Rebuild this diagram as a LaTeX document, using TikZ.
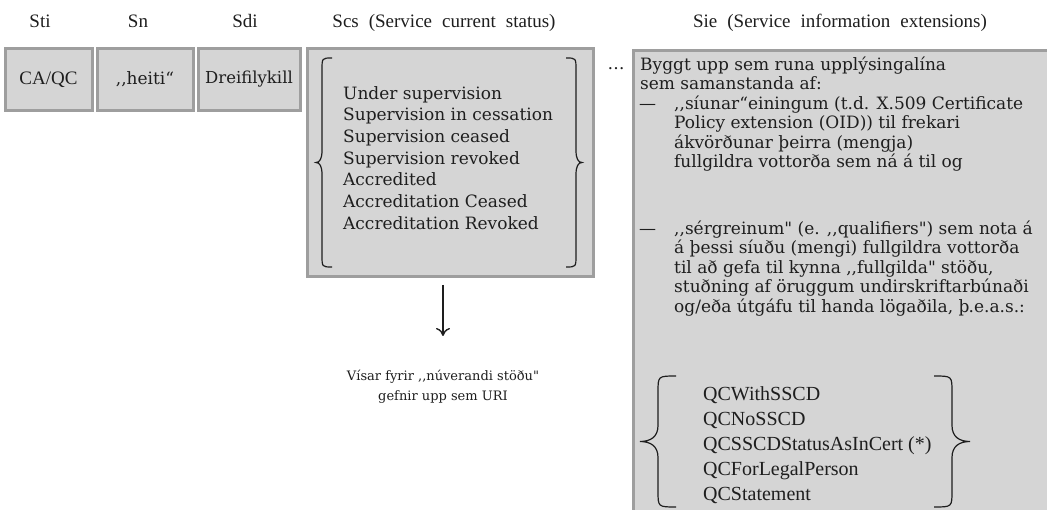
\documentclass[tikz,border=0pt]{standalone}
\usepackage{fontspec}
\setmainfont{Liberation Serif}
\newfontfamily\slab{DejaVu Serif}
\usetikzlibrary{arrows.meta}
\definecolor{boxfill}{HTML}{D5D5D5}
\definecolor{boxborder}{HTML}{9E9E9E}
\definecolor{ink}{HTML}{1E1E1E}
\newcommand\dc{,\kern0pt,}
\newcommand\fs{\rule{0pt}{18pt}}
% left curly brace: arm x, mid x, tip x, top y, bottom y, hook radius
\newcommand\mybraceL[6]{%
  \pgfmathsetmacro\yc{(#4+#5)/2}%
  \draw[brc] (#1,#4) .. controls (#2,#4) and (#2,#4) .. (#2,{#4+#6})
    -- (#2,{\yc-#6}) .. controls (#2,{\yc-0.3*#6}) and ({#2+0.4*(#3-#2)},\yc) .. (#3,\yc)
    .. controls ({#2+0.4*(#3-#2)},\yc) and (#2,{\yc+0.3*#6}) .. (#2,{\yc+#6})
    -- (#2,{#5-#6}) .. controls (#2,#5) and (#2,#5) .. (#1,#5);}
\begin{document}
\begin{tikzpicture}[x=1pt,y=-1pt,
  cell/.style={draw=boxborder, line width=3pt, fill=boxfill, inner sep=0pt, text=ink},
  hdr/.style={font=\fontsize{19}{21}\selectfont, text=ink, anchor=base, inner sep=0pt},
  slabtxt/.style={font=\slab\fontsize{17}{19.5}\selectfont, text=ink, align=left, inner sep=0pt},
  scstxt/.style={font=\slab\fontsize{17}{21.7}\selectfont, text=ink, align=left, inner sep=0pt},
  notetxt/.style={font=\slab\fontsize{13}{20}\selectfont, text=ink, align=center, inner sep=0pt},
  qctxt/.style={font=\fontsize{20}{25}\selectfont, text=ink, align=left, inner sep=0pt},
  brc/.style={draw=ink, line width=1.2pt},
  arr/.style={-{To[length=8pt,width=14pt]}, draw=ink, line width=1.4pt}
]
\useasboundingbox[fill=white] (0,0) rectangle (1047,510);
% headers
\node[hdr] (hsti) at (40,28) {Sti};
\node[hdr] (hsn) at (138,28) {Sn};
\node[hdr] (hsdi) at (245,28) {Sdi};
\node[hdr] (hscs) at (444,28) {\spaceskip=10pt Scs (Service current status)};
\node[hdr] (hsie) at (840,28) {\spaceskip=10pt Sie (Service information extensions)};
% boxes
\node[cell, minimum width=87pt, minimum height=62pt, font=\fontsize{19}{21}\selectfont] (sti) at (48.5,79.5) {CA/QC};
\node[cell, minimum width=96pt, minimum height=62pt, font=\slab\fontsize{17}{19}\selectfont] (sn) at (145,79.5) {\dc heiti“};
\node[cell, minimum width=102pt, minimum height=62pt, font=\slab\fontsize{16.5}{19}\selectfont] (sdi) at (249,79.5) {Dreifilykill};
\node[cell, minimum width=286pt, minimum height=228pt] (scs) at (450,163) {};
\node[cell, anchor=north west, minimum width=440pt, minimum height=480pt] (sie) at (632,49) {};
% scs content
\mybraceL{332}{322}{316}{58}{267}{12}
\mybraceL{566}{576}{582}{58}{267}{12}
\node[scstxt, anchor=north west] (scstext) at (343,81) {\fs Under supervision\\Supervision in cessation\\Supervision ceased\\Supervision revoked\\Accredited\\Accreditation Ceased\\Accreditation Revoked};
\node[font=\slab\fontsize{17}{19}\selectfont, text=ink, anchor=base, inner sep=0pt] (dots) at (616,70) {\ldots};
% arrow and note
\coordinate (a1) at (443,285);
\coordinate (a2) at (443,336);
\draw[arr] (a1) -- (a2);
\node[notetxt, anchor=north] (note) at (443,362) {\fs Vísar fyrir \dc núverandi stöðu"\\gefnir upp sem URI};
% sie content
\node[slabtxt, anchor=north west] (sie1) at (640,52) {\fs Byggt upp sem runa upplýsingalína\\sem samanstanda af:};
\node[slabtxt, anchor=north west] (d1) at (639,91) {\fs —};
\node[slabtxt, anchor=north west] (sie2) at (674,91) {\fs \dc síunar“einingum (t.d. X.509 Certificate\\Policy extension (OID)) til frekari\\ákvörðunar þeirra (mengja)\\fullgildra vottorða sem ná á til og};
\node[slabtxt, anchor=north west] (d2) at (639,216) {\fs —};
\node[slabtxt, anchor=north west] (sie3) at (674,216) {\fs \dc sérgreinum" (e. \dc qualifiers") sem nota á\\á þessi síuðu (mengi) fullgildra vottorða\\til að gefa til kynna \dc fullgilda" stöðu,\\stuðning af öruggum undirskriftarbúnaði\\og/eða útgáfu til handa lögaðila, þ.e.a.s.:};
\mybraceL{676}{658}{640}{376}{507}{16}
\mybraceL{934}{952}{970}{376}{507}{16}
\node[qctxt, anchor=north west] (qc) at (703,382) {\fs QCWithSSCD\\QCNoSSCD\\QCSSCDStatusAsInCert (*)\\QCForLegalPerson\\QCStatement};
\end{tikzpicture}
\end{document}
